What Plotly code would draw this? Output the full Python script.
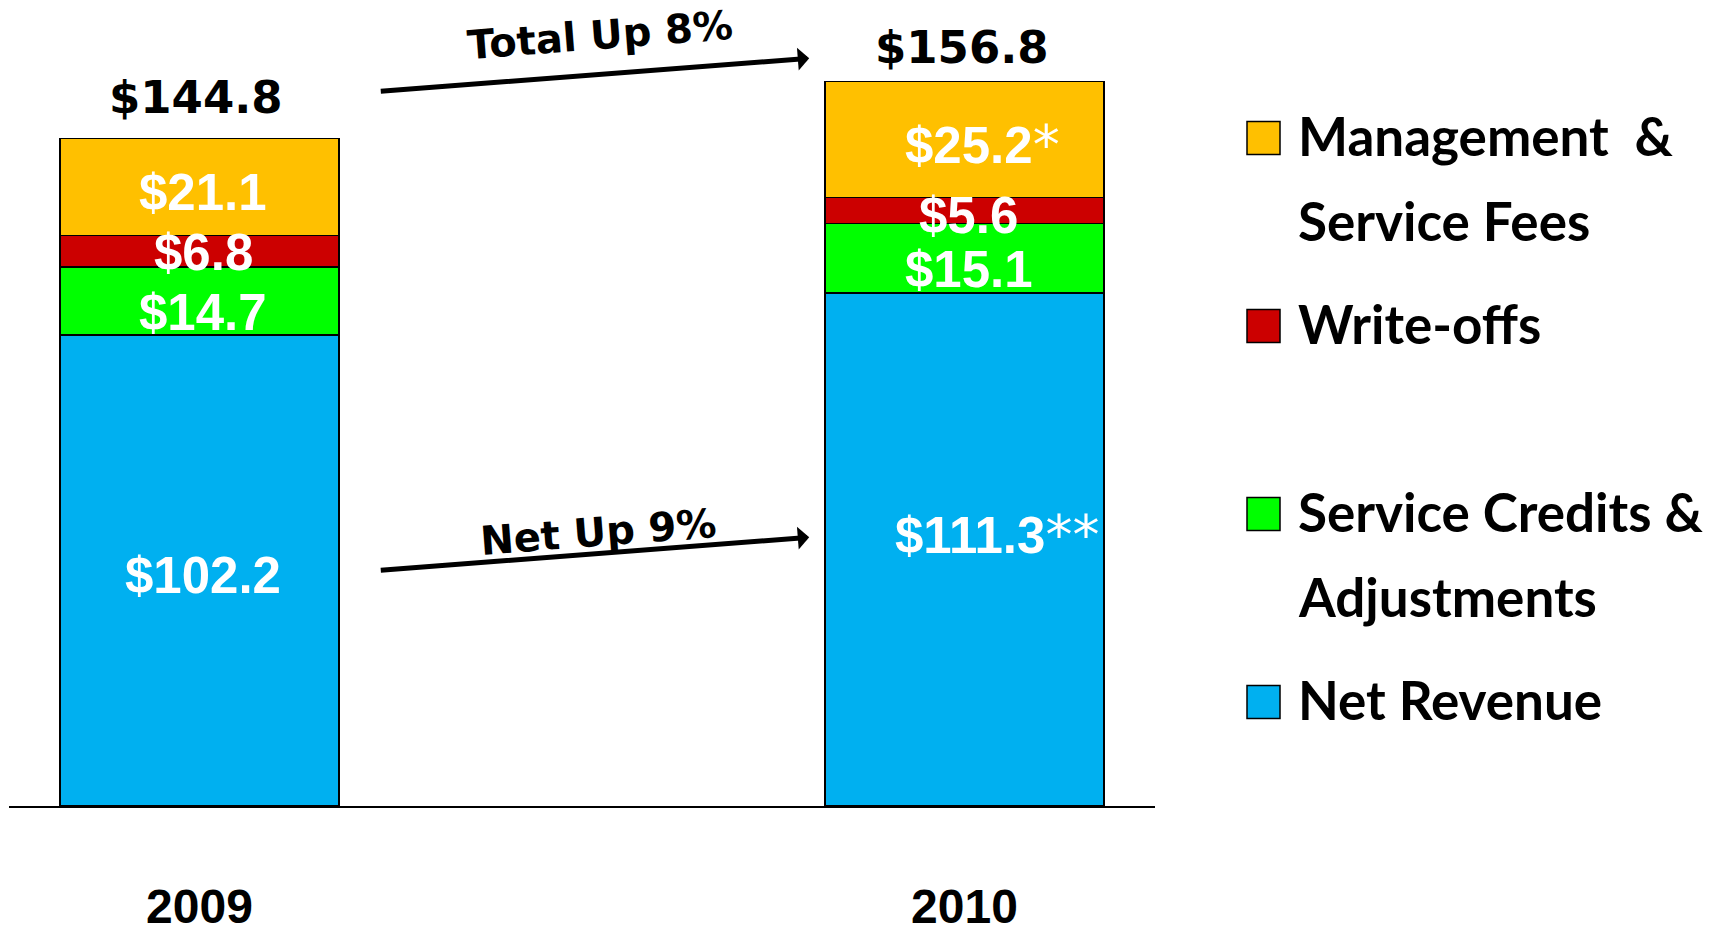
import plotly.graph_objects as go

# values ($ millions)
years = ["2009", "2010"]
net_revenue = [102.2, 111.3]
service_credits = [14.7, 15.1]
write_offs = [6.8, 5.6]
mgmt_fees = [21.1, 25.2]
totals = [144.8, 156.8]

# footnote marks shown after some values in 2010
mgmt_notes = ["", "*"]
net_notes = ["", "**"]

# stacking order, bottom to top
series = [
    ("Net Revenue", net_revenue, "#00B0F0", net_notes),
    ("Service Credits & Adjustments", service_credits, "#00FF00", ["", ""]),
    ("Write-offs", write_offs, "#CC0000", ["", ""]),
    ("Management & Service Fees", mgmt_fees, "#FFC000", mgmt_notes),
]
# legend text as it is broken on the slide
legend_text = {
    "Management & Service Fees": ["Management  &", "Service Fees"],
    "Write-offs": ["Write-offs"],
    "Service Credits & Adjustments": ["Service Credits &", "Adjustments"],
    "Net Revenue": ["Net Revenue"],
}

# the page adds an 8px body margin, so the figure is 8px smaller than the window
W, H = 1706, 920
L, R, T, B = 1, 559, 0, 122
PW, PH = W - L - R, H - T - B


# window pixel -> paper coordinate
def px(x):
    return (x - 8 - L) / PW


def py(y):
    return (H - B - (y - 8)) / PH


VAL_FONT = "Liberation Sans, Arial, sans-serif"
NUM_FONT = "DejaVu Sans, Verdana, sans-serif"
LEG_FONT = "Lato, Calibri, sans-serif"
YEAR_FONT = "Liberation Sans Narrow, Liberation Sans, sans-serif"

# hand placement on the slide is not exactly centred: pixel nudges (down = +)
label_nudge = {
    ("Service Credits & Adjustments", 0): 7,
    ("Service Credits & Adjustments", 1): 6,
    ("Write-offs", 0): -4,
    ("Net Revenue", 1): -20,
}
total_nudge = [0, 5]

fig = go.Figure()
for name, vals, color, notes in series:
    fig.add_trace(go.Bar(
        x=years, y=vals, name=name,
        marker=dict(color=color, line=dict(color="black", width=1.5)),
        width=0.365, showlegend=False, hoverinfo="y+name",
    ))

annotations = []

# white value labels in the middle of each segment
base = [0.0, 0.0]
for name, vals, color, notes in series:
    for j, v in enumerate(vals):
        note = notes[j]
        txt = "<b>$%.1f</b>" % v
        if note:
            txt += ('<span style="font-family:\'DejaVu Sans\';font-weight:normal;'
                    'font-size:54px">%s</span>' % note)
        annotations.append(dict(
            x=j, y=base[j] + v / 2, xref="x", yref="y", text=txt,
            showarrow=False, xanchor="center", yanchor="middle",
            xshift=4 + 14 * len(note), yshift=-5 - label_nudge.get((name, j), 0),
            font=dict(family=VAL_FONT, size=51, color="white"),
        ))
        base[j] += v

# totals above the bars
for j, t in enumerate(totals):
    annotations.append(dict(
        x=j, y=t, xref="x", yref="y", text="<b>$%.1f</b>" % t,
        showarrow=False, xanchor="center", yanchor="bottom",
        xshift=-3, yshift=12 - total_nudge[j],
        font=dict(family=NUM_FONT, size=45, color="black"),
    ))

# growth arrows
for (x0, y0, x1, y1) in [(0.235, 155.0, 0.797, 162.2), (0.235, 51.1, 0.797, 58.3)]:
    annotations.append(dict(
        x=x1, y=y1, ax=x0, ay=y0, xref="x", yref="y", axref="x", ayref="y",
        text="", showarrow=True, arrowhead=1, arrowsize=0.76, arrowwidth=5,
        arrowcolor="black", standoff=0, startstandoff=0,
    ))
for (x, y, txt) in [(0.524, 167.2, "Total Up 8%"), (0.521, 59.4, "Net Up 9%")]:
    annotations.append(dict(
        x=x, y=y, xref="x", yref="y", text="<b>%s</b>" % txt, showarrow=False,
        textangle=-4.4, font=dict(family=NUM_FONT, size=40, color="black"),
    ))

# legend drawn by hand to get the large square swatches and slide spacing
shapes = []
first_line = 138
for k, (name, vals, color, notes) in enumerate(reversed(series)):
    cy = first_line + 188 * k
    shapes.append(dict(
        type="rect", xref="paper", yref="paper",
        x0=px(1247), x1=px(1280), y0=py(cy + 16.5), y1=py(cy - 16.5),
        fillcolor=color, line=dict(color="black", width=1.5),
    ))
    for n, line in enumerate(legend_text[name]):
        annotations.append(dict(
            x=px(1296), y=py(cy - 3 + 85 * n), xref="paper", yref="paper",
            text="<b>%s</b>" % line.replace("  ", "&nbsp; "), showarrow=False,
            xanchor="left", yanchor="middle",
            font=dict(family=LEG_FONT, size=53, color="black"),
        ))

fig.update_layout(
    barmode="stack",
    width=W, height=H,
    margin=dict(l=L, r=R, t=T, b=B, autoexpand=False),
    plot_bgcolor="white", paper_bgcolor="white",
    annotations=annotations, shapes=shapes,
    showlegend=False,
    xaxis=dict(
        range=[-0.249, 1.249], showline=True, linecolor="black", linewidth=2,
        showgrid=False, zeroline=False, ticks="", ticklabelstandoff=57,
        automargin=False,
        tickfont=dict(family=YEAR_FONT, size=48, color="black"),
        tickprefix="<b>", ticksuffix="</b>",
    ),
    yaxis=dict(range=[0, 798 / 4.61], visible=False, automargin=False),
)

fig.write_html("out.html")
